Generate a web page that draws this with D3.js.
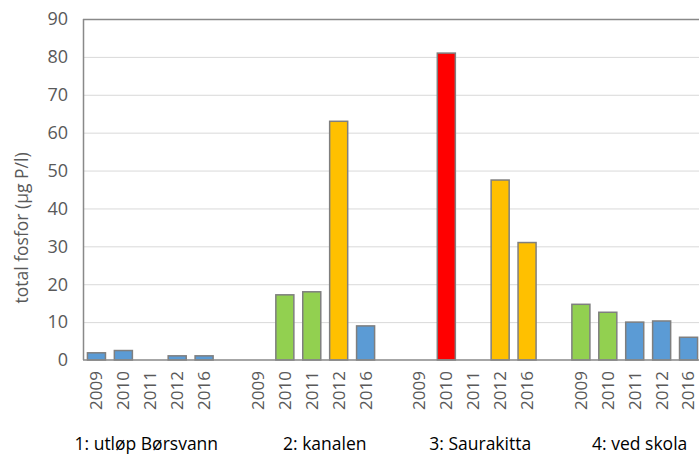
<!DOCTYPE html>
<html>
<head>
<meta charset="utf-8">
<script src="https://cdn.jsdelivr.net/npm/d3@7"></script>
<style>
  body { margin: 0; background: #fff; }
  text { font-family: "Open Sans", "Noto Sans", sans-serif; fill: #595959; }
</style>
</head>
<body>
<svg id="chart" width="699" height="456"></svg>
<script>
// stations and years
var stations = ["1: utløp Børsvann", "2: kanalen", "3: Saurakitta", "4: ved skola"];
var years = ["2009", "2010", "2011", "2012", "2016"];

// total fosfor per station, same order as years (0 = no sample)
var utlop    = [1.9, 2.5, 0, 1.1, 1.1];
var kanalen  = [0, 17.2, 18.0, 63.0, 9.0];
var sauraki  = [0, 81.0, 0, 47.5, 31.0];
var vedskola = [14.7, 12.6, 10.0, 10.3, 6.0];

// colour class per bar (b = blue, g = green, o = orange, r = red)
var utlopCls    = ["b", "b", "b", "b", "b"];
var kanalenCls  = ["b", "g", "g", "o", "b"];
var saurakiCls  = ["b", "r", "b", "o", "o"];
var vedskolaCls = ["g", "g", "b", "b", "b"];

var yTicks = [0, 10, 20, 30, 40, 50, 60, 70, 80, 90];

var COLORS = {b: "#5b9bd5", g: "#92d050", o: "#ffc000", r: "#ff0000"};
// station labels are hand placed text boxes, not exactly centred
var LABEL_SHIFT = [-4, 13, 7, 5];

var values = [utlop, kanalen, sauraki, vedskola];
var classes = [utlopCls, kanalenCls, saurakiCls, vedskolaCls];

// flatten into slots, one empty slot between stations
var slots = [];
stations.forEach(function(s, gi) {
  if (gi > 0) slots.push({key: "gap" + gi, gap: true});
  years.forEach(function(y, yi) {
    slots.push({key: gi + "-" + y, year: y, group: gi, value: values[gi][yi], cls: classes[gi][yi]});
  });
});

var margin = {top: 19, left: 83};
var plotW = 619, plotH = 341;

var svg = d3.select("#chart");
var g = svg.append("g").attr("transform", "translate(" + margin.left + "," + margin.top + ")");

var x = d3.scaleBand()
  .domain(slots.map(function(d) { return d.key; }))
  .range([0, plotW])
  .paddingInner(0.33)
  .paddingOuter(0.165);

var y = d3.scaleLinear().domain([0, 90]).range([plotH, 0]);

// gridlines
g.selectAll(".grid")
  .data(yTicks.filter(function(t) { return t > 0 && t < 90; }))
  .enter().append("line")
  .attr("x1", 0).attr("x2", plotW)
  .attr("y1", function(d) { return y(d) + 0.5; })
  .attr("y2", function(d) { return y(d) + 0.5; })
  .style("stroke", "#d9d9d9")
  .style("stroke-width", 1);

// top border
g.append("line")
  .attr("x1", 0).attr("x2", plotW)
  .attr("y1", y(90) + 0.5).attr("y2", y(90) + 0.5)
  .style("stroke", "#898989").style("stroke-width", 1.5);

// bars
g.selectAll(".bar")
  .data(slots.filter(function(d) { return !d.gap && d.value > 0; }))
  .enter().append("rect")
  .attr("class", "bar")
  .attr("x", function(d) { return x(d.key); })
  .attr("width", x.bandwidth())
  .attr("y", function(d) { return y(d.value); })
  .attr("height", function(d) { return y(0) - y(d.value); })
  .style("fill", function(d) { return COLORS[d.cls]; })
  .style("stroke", "#7f7f7f")
  .style("stroke-width", 1.5);

// axes lines
g.append("line")
  .attr("x1", 0.5).attr("x2", 0.5).attr("y1", 0).attr("y2", plotH)
  .style("stroke", "#898989").style("stroke-width", 1.5);
g.append("line")
  .attr("x1", 0).attr("x2", plotW).attr("y1", plotH).attr("y2", plotH)
  .style("stroke", "#898989").style("stroke-width", 1.5);

// y tick labels
g.selectAll(".ytick")
  .data(yTicks)
  .enter().append("text")
  .attr("x", -15)
  .attr("y", function(d) { return y(d); })
  .attr("dy", "0.35em")
  .attr("text-anchor", "end")
  .style("font-size", "18px")
  .text(function(d) { return d; });

// year labels, rotated
g.selectAll(".year")
  .data(slots.filter(function(d) { return !d.gap; }))
  .enter().append("text")
  .attr("transform", function(d) {
    return "translate(" + (x(d.key) + x.bandwidth() / 2) + "," + (plotH + 11) + ") rotate(-90)";
  })
  .attr("dy", "0.35em")
  .attr("text-anchor", "end")
  .style("font-size", "17px")
  .text(function(d) { return d.year; });

// station labels
g.selectAll(".station")
  .data(stations)
  .enter().append("text")
  .attr("x", function(d, i) {
    var first = x(i + "-" + years[0]), last = x(i + "-" + years[years.length - 1]);
    return (first + last + x.bandwidth()) / 2 + LABEL_SHIFT[i];
  })
  .attr("y", 431)
  .attr("text-anchor", "middle")
  .style("font-size", "17.5px")
  .style("fill", "#000")
  .text(function(d) { return d; });

// y axis title
svg.append("text")
  .attr("transform", "translate(22,228) rotate(-90)")
  .attr("dy", "0.35em")
  .attr("text-anchor", "middle")
  .style("font-size", "17.5px")
  .text("total fosfor (µg P/l)");
</script>
</body>
</html>
